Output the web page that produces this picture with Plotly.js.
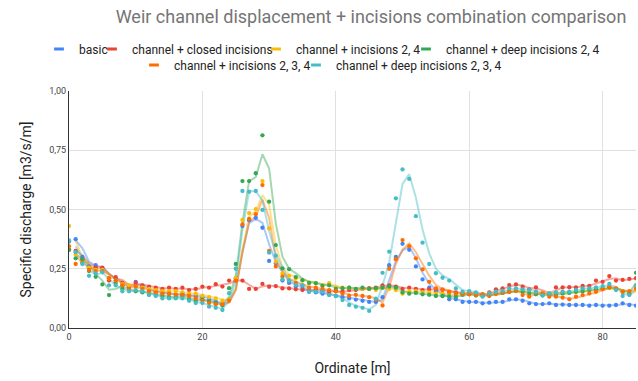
<!DOCTYPE html>
<html>
<head>
<meta charset="utf-8">
<script src="https://cdn.plot.ly/plotly-3.0.1.min.js"></script>
<style>html,body{margin:0;padding:0;background:#fff}#chart{width:638px;height:381px}</style>
</head>
<body>
<div id="chart"></div>
<script>
const ordinate = Array.from({length: 86}, (_, i) => i);

const basic = [0.365,0.375,0.30,0.26,0.265,0.25,0.21,0.21,0.18,0.17,
0.195,0.17,0.16,0.155,0.15,0.145,0.14,0.145,0.135,0.135,
0.13,0.12,0.11,0.10,0.12,0.21,0.43,0.455,0.465,0.423,
0.283,0.273,0.20,0.19,0.175,0.165,0.153,0.15,0.145,0.14,
0.135,0.13,0.125,0.12,0.115,0.11,0.11,0.13,0.265,0.30,
0.355,0.33,0.26,0.205,0.17,0.155,0.135,0.121,0.121,0.11,
0.11,0.11,0.104,0.107,0.11,0.11,0.121,0.121,0.115,0.104,
0.101,0.101,0.104,0.097,0.099,0.097,0.097,0.097,0.094,0.097,
0.094,0.094,0.097,0.104,0.097,0.094];

const closedIncisions = [0.33,0.325,0.29,0.255,0.255,0.255,0.20,0.215,0.19,0.175,
0.19,0.18,0.175,0.17,0.165,0.17,0.165,0.17,0.16,0.165,
0.175,0.17,0.185,0.175,0.20,0.20,0.20,0.165,0.165,0.186,
0.174,0.177,0.167,0.167,0.163,0.16,0.157,0.163,0.157,0.153,
0.155,0.153,0.16,0.16,0.165,0.168,0.17,0.18,0.18,0.175,
0.165,0.17,0.165,0.16,0.163,0.165,0.16,0.15,0.15,0.146,
0.15,0.146,0.142,0.15,0.163,0.167,0.181,0.184,0.174,0.163,
0.171,0.148,0.146,0.171,0.171,0.172,0.171,0.178,0.178,0.20,
0.195,0.219,0.20,0.203,0.207,0.21];

const incisions24 = [0.43,0.31,0.28,0.255,0.245,0.245,0.21,0.20,0.185,0.18,
0.175,0.17,0.165,0.16,0.155,0.155,0.155,0.15,0.145,0.145,
0.135,0.13,0.125,0.115,0.12,0.21,0.456,0.485,0.502,0.62,
0.42,0.28,0.23,0.22,0.21,0.20,0.19,0.189,0.18,0.189,
0.17,0.17,0.17,0.165,0.165,0.165,0.16,0.17,0.165,0.16,
0.145,0.155,0.155,0.15,0.15,0.145,0.145,0.14,0.14,0.145,
0.145,0.142,0.14,0.145,0.148,0.15,0.155,0.158,0.152,0.146,
0.15,0.148,0.145,0.148,0.15,0.15,0.152,0.155,0.158,0.16,
0.165,0.168,0.163,0.155,0.15,0.16];

const deepIncisions24 = [0.33,0.294,0.29,0.24,0.216,0.184,0.139,0.19,0.165,0.16,
0.155,0.15,0.14,0.14,0.135,0.13,0.13,0.135,0.12,0.115,
0.12,0.11,0.105,0.095,0.168,0.27,0.62,0.62,0.653,0.813,
0.533,0.35,0.252,0.248,0.215,0.202,0.19,0.189,0.178,0.18,
0.165,0.168,0.17,0.165,0.17,0.165,0.168,0.17,0.175,0.17,
0.15,0.145,0.148,0.142,0.14,0.135,0.135,0.133,0.132,0.14,
0.142,0.137,0.135,0.14,0.146,0.148,0.153,0.157,0.153,0.146,
0.142,0.137,0.14,0.14,0.146,0.148,0.153,0.155,0.16,0.164,
0.167,0.171,0.163,0.153,0.146,0.233];

const incisions234 = [0.345,0.27,0.275,0.245,0.24,0.24,0.21,0.20,0.18,0.165,
0.175,0.165,0.155,0.15,0.145,0.145,0.14,0.14,0.135,0.125,
0.115,0.105,0.10,0.10,0.115,0.20,0.437,0.46,0.48,0.603,
0.325,0.26,0.217,0.20,0.19,0.18,0.17,0.17,0.165,0.16,
0.155,0.145,0.136,0.14,0.135,0.13,0.12,0.095,0.25,0.29,
0.371,0.345,0.294,0.247,0.195,0.167,0.163,0.153,0.146,0.144,
0.142,0.139,0.142,0.135,0.144,0.149,0.153,0.157,0.139,0.132,
0.149,0.146,0.132,0.132,0.128,0.121,0.132,0.139,0.146,0.153,
0.163,0.174,0.167,0.153,0.156,0.167];

const deepIncisions234 = [0.37,0.32,0.27,0.22,0.23,0.235,0.18,0.18,0.155,0.155,
0.16,0.155,0.14,0.135,0.125,0.125,0.125,0.125,0.115,0.105,
0.105,0.09,0.085,0.076,0.147,0.25,0.578,0.575,0.578,0.498,
0.318,0.305,0.205,0.20,0.181,0.18,0.153,0.153,0.153,0.139,
0.135,0.118,0.097,0.09,0.085,0.072,0.124,0.233,0.322,0.547,
0.669,0.629,0.472,0.36,0.27,0.231,0.212,0.20,0.167,0.153,
0.156,0.15,0.132,0.146,0.153,0.157,0.167,0.167,0.163,0.16,
0.153,0.139,0.146,0.15,0.153,0.153,0.16,0.167,0.167,0.171,
0.177,0.186,0.16,0.135,0.139,0.18];

const seriesNames = ["basic","channel + closed incisions","channel + incisions 2, 4",
  "channel + deep incisions 2, 4","channel + incisions 2, 3, 4","channel + deep incisions 2, 3, 4"];
const seriesData = [basic, closedIncisions, incisions24, deepIncisions24, incisions234, deepIncisions234];
const colors = ["#4285F4","#EA4335","#FBBC04","#34A853","#FF6D01","#46BDC6"];
const xTicks = [0,20,40,60,80];
const yTicks = [0,0.25,0.5,0.75,1];

function movingAvg(arr){
  return arr.map((v,i)=> i===0 ? null : (arr[i-1]+v)/2);
}
function hexA(h,a){
  const r=parseInt(h.slice(1,3),16),g=parseInt(h.slice(3,5),16),b=parseInt(h.slice(5,7),16);
  return `rgba(${r},${g},${b},${a})`;
}

// legend entry placement (text start px, row centre px)
const legendPos = [[79,49],[132,49],[296,49],[446,49],[174,65],[336,65]];
const legendKeys = ['legend','legend2','legend3','legend4','legend5','legend6'];

const traces = [];
seriesData.forEach((d,i)=>{
  traces.push({x: ordinate, y: movingAvg(d), mode:'lines', type:'scatter',
    line:{color: hexA(colors[i],0.45), width:2}, showlegend:false, hoverinfo:'skip'});
});
seriesData.forEach((d,i)=>{
  traces.push({x: ordinate, y: d, mode:'markers', type:'scatter', name: seriesNames[i],
    marker:{color: colors[i], size:4.3}, showlegend:false});
});
seriesData.forEach((d,i)=>{
  traces.push({x:[null], y:[null], mode:'markers', type:'scatter', name: seriesNames[i],
    legend: legendKeys[i],
    marker:{color: colors[i], symbol:'line-ew', size:7, line:{color: colors[i], width:3}}, showlegend:true});
});

const layout = {
  width:638, height:381,
  margin:{l:69, r:2, t:91, b:53},
  paper_bgcolor:'#fff', plot_bgcolor:'#fff',
  font:{family:'Roboto, Arial, sans-serif', color:'#444'},
  separators:', ',
  title:{text:'Weir channel displacement + incisions combination comparison',
    font:{size:18, color:'#757575', family:'Roboto, Arial, sans-serif'},
    xref:'container', x:371/638, xanchor:'center', yref:'container', y:1-17/381, yanchor:'middle'},
  xaxis:{range:[0,85], tickvals:xTicks, tickformat:'d', showgrid:true, gridcolor:'#e0e0e0',
    zeroline:false, showline:true, linecolor:'#333', linewidth:1, ticks:'',
    tickfont:{size:9, color:'#444'},
    title:{text:'Ordinate [m]', font:{size:14, color:'#222'}, standoff:22}},
  yaxis:{range:[0,1], tickvals:yTicks, tickformat:'.2f', showgrid:true, gridcolor:'#e0e0e0',
    zeroline:false, showline:true, linecolor:'#333', linewidth:1, ticks:'',
    tickfont:{size:9, color:'#444'},
    title:{text:'Specific discharge [m3/s/m]', font:{size:14, color:'#222'}, standoff:14}}
};
legendKeys.forEach((k,i)=>{
  layout[k] = {orientation:'h', xref:'container', yref:'container',
    x:(legendPos[i][0]-40)/638, xanchor:'left', y:1-legendPos[i][1]/381, yanchor:'middle',
    font:{size:12, color:'#222', family:'Roboto, Arial, sans-serif'},
    itemwidth:30, bgcolor:'rgba(0,0,0,0)', borderwidth:0};
});

Plotly.newPlot('chart', traces, layout, {displayModeBar:false, staticPlot:true});
</script>
</body>
</html>
